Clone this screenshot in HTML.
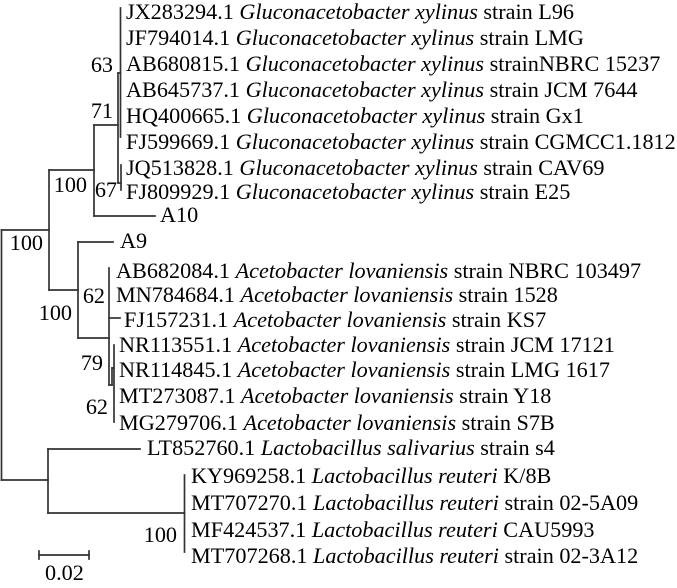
<!DOCTYPE html>
<html>
<head>
<meta charset="utf-8">
<style>
  html, body { margin: 0; padding: 0; background: #ffffff; }
  svg { display: block; }
  text { font-family: "Liberation Serif", "Times New Roman", serif; font-size: 22.2px; fill: #000; }
  .i { font-style: italic; }
</style>
</head>
<body>
<svg width="677" height="588" viewBox="0 0 677 588" xmlns="http://www.w3.org/2000/svg">
  <g stroke="#333" stroke-width="1.7" fill="none" stroke-linecap="square">
    <!-- root -->
    <line x1="1.5" y1="230" x2="1.5" y2="480"/>
    <line x1="1.5" y1="230" x2="49" y2="230"/>
    <line x1="1.5" y1="480" x2="48" y2="480"/>
    <!-- node 100 (acetic acid bacteria) -->
    <line x1="49" y1="170" x2="49" y2="290"/>
    <line x1="49" y1="170" x2="94" y2="170"/>
    <!-- Gluconacetobacter node -->
    <line x1="94" y1="125" x2="94" y2="216"/>
    <line x1="94" y1="216" x2="155" y2="216"/>
    <line x1="94" y1="125" x2="118" y2="125"/>
    <!-- node 71 -->
    <line x1="118" y1="73" x2="118" y2="183"/>
    <line x1="118" y1="73" x2="120.5" y2="73"/>
    <line x1="120.5" y1="8" x2="120.5" y2="137"/>
    <line x1="118" y1="183" x2="121" y2="183"/>
    <line x1="121" y1="165" x2="121" y2="190"/>
    <!-- Acetobacter node -->
    <line x1="49" y1="290" x2="78" y2="290"/>
    <line x1="78" y1="242" x2="78" y2="338"/>
    <line x1="78" y1="242" x2="113" y2="242"/>
    <line x1="78" y1="338" x2="109" y2="338"/>
    <line x1="109" y1="268" x2="109" y2="385"/>
    <line x1="109" y1="318" x2="120" y2="318"/>
    <line x1="109" y1="385" x2="112" y2="385"/>
    <line x1="112" y1="368" x2="112" y2="385"/>
    <line x1="112" y1="368" x2="114" y2="368"/>
    <line x1="114" y1="345" x2="114" y2="422"/>
    <!-- Lactobacillus -->
    <line x1="48" y1="449" x2="48" y2="513"/>
    <line x1="48" y1="449" x2="140" y2="449"/>
    <line x1="48" y1="513" x2="184.5" y2="513"/>
    <line x1="184.5" y1="475" x2="184.5" y2="552"/>
    <!-- scale bar -->
    <line x1="39" y1="555" x2="89" y2="555"/>
    <line x1="39" y1="551" x2="39" y2="559"/>
    <line x1="89" y1="551" x2="89" y2="559"/>
  </g>

  <!-- taxa labels -->
  <text x="126" y="19">JX283294.1 <tspan class="i">Gluconacetobacter xylinus</tspan> strain L96</text>
  <text x="126" y="45">JF794014.1 <tspan class="i">Gluconacetobacter xylinus</tspan> strain LMG</text>
  <text x="126" y="71">AB680815.1 <tspan class="i">Gluconacetobacter xylinus</tspan> strainNBRC 15237</text>
  <text x="126" y="97">AB645737.1 <tspan class="i">Gluconacetobacter xylinus</tspan> strain JCM 7644</text>
  <text x="126" y="123">HQ400665.1 <tspan class="i">Gluconacetobacter xylinus</tspan> strain Gx1</text>
  <text x="126" y="149">FJ599669.1 <tspan class="i">Gluconacetobacter xylinus</tspan> strain CGMCC1.1812</text>
  <text x="126" y="175">JQ513828.1 <tspan class="i">Gluconacetobacter xylinus</tspan> strain CAV69</text>
  <text x="126" y="199">FJ809929.1 <tspan class="i">Gluconacetobacter xylinus</tspan> strain E25</text>
  <text x="160" y="222">A10</text>
  <text x="120" y="248">A9</text>
  <text x="116" y="278">AB682084.1 <tspan class="i">Acetobacter lovaniensis</tspan> strain NBRC 103497</text>
  <text x="116" y="302">MN784684.1 <tspan class="i">Acetobacter lovaniensis</tspan> strain 1528</text>
  <text x="124" y="327">FJ157231.1 <tspan class="i">Acetobacter lovaniensis</tspan> strain KS7</text>
  <text x="119" y="352">NR113551.1 <tspan class="i">Acetobacter lovaniensis</tspan> strain JCM 17121</text>
  <text x="119" y="377">NR114845.1 <tspan class="i">Acetobacter lovaniensis</tspan> strain LMG 1617</text>
  <text x="119" y="403">MT273087.1 <tspan class="i">Acetobacter lovaniensis</tspan> strain Y18</text>
  <text x="119" y="430">MG279706.1 <tspan class="i">Acetobacter lovaniensis</tspan> strain S7B</text>
  <text x="147" y="455">LT852760.1 <tspan class="i">Lactobacillus salivarius</tspan> strain s4</text>
  <text x="191" y="483">KY969258.1 <tspan class="i">Lactobacillus reuteri</tspan> K/8B</text>
  <text x="191" y="510">MT707270.1 <tspan class="i">Lactobacillus reuteri</tspan> strain 02-5A09</text>
  <text x="191" y="537">MF424537.1 <tspan class="i">Lactobacillus reuteri</tspan> CAU5993</text>
  <text x="191" y="563">MT707268.1 <tspan class="i">Lactobacillus reuteri</tspan> strain 02-3A12</text>

  <!-- bootstrap values -->
  <g text-anchor="end">
    <text x="113" y="72">63</text>
    <text x="113" y="118">71</text>
    <text x="87" y="192">100</text>
    <text x="117" y="197">67</text>
    <text x="43" y="250">100</text>
    <text x="105" y="303">62</text>
    <text x="72" y="320">100</text>
    <text x="103" y="370">79</text>
    <text x="108" y="414">62</text>
    <text x="177" y="542">100</text>
  </g>
  <text x="45" y="580">0.02</text>
</svg>
</body>
</html>
